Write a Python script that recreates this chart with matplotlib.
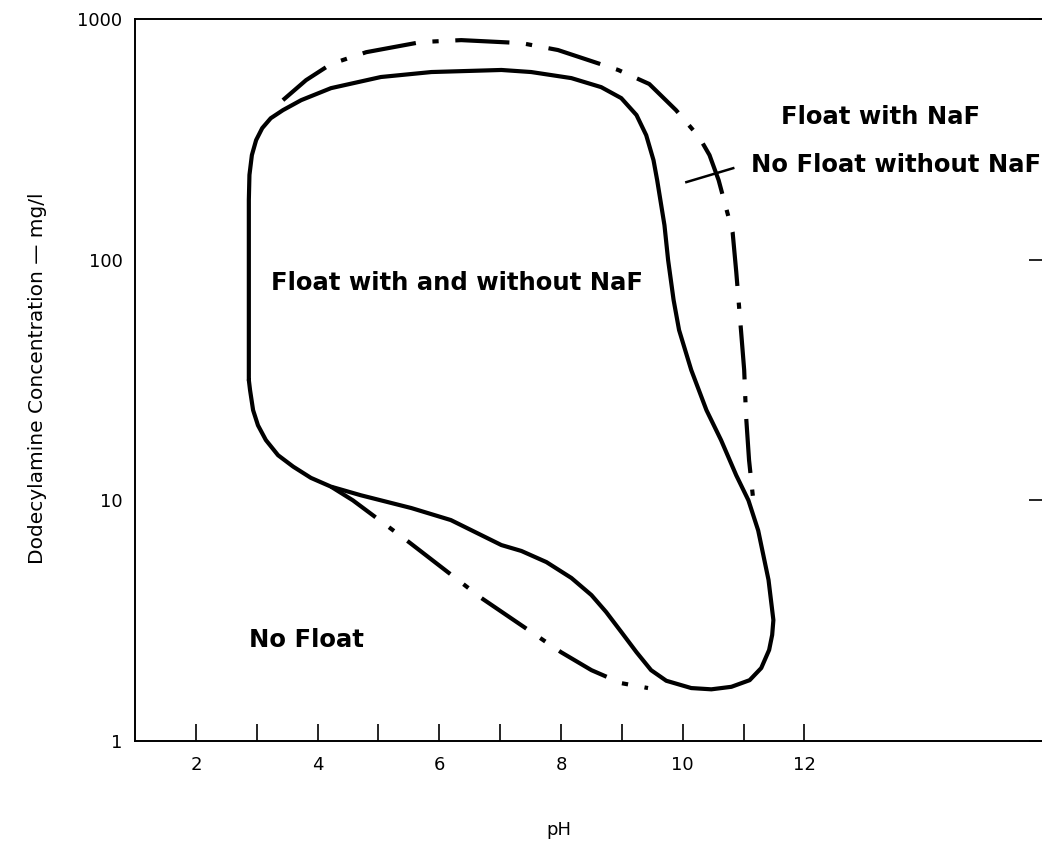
import matplotlib.pyplot as plt
from matplotlib.ticker import FixedLocator, NullLocator

plt.rcParams["font.family"] = ["DejaVu Sans"]

# Flotation boundary without NaF (solid, closed), traced clockwise from the left edge
solid_ph = [2.87, 2.87, 2.87, 2.88, 2.92, 2.99, 3.09, 3.23, 3.43, 3.73, 4.22, 5.04,
            5.87, 7.02, 7.51, 8.17, 8.66, 8.99, 9.24, 9.40, 9.52, 9.58, 9.70, 9.76,
            9.85, 9.94, 10.14, 10.39, 10.63, 10.88, 11.08, 11.24, 11.41, 11.49, 11.47,
            11.42, 11.29, 11.10, 10.80, 10.47, 10.14, 9.73, 9.48, 9.24, 8.99, 8.74,
            8.50, 8.17, 7.76, 7.35, 7.02, 6.19, 5.54, 4.71, 4.22, 3.89, 3.60, 3.35,
            3.15, 3.02, 2.94, 2.89, 2.87]
solid_conc = [31.6, 68, 177, 225, 272, 314, 352, 387, 418, 460, 516, 574,
              602, 614, 602, 568, 521, 469, 399, 329, 259, 214, 139, 99.6,
              68, 51, 34.8, 23.7, 17.8, 12.7, 10.0, 7.5, 4.67, 3.18, 2.76,
              2.39, 2.01, 1.79, 1.68, 1.64, 1.66, 1.78, 1.97, 2.34, 2.84, 3.44,
              4.04, 4.76, 5.54, 6.16, 6.52, 8.28, 9.29, 10.5, 11.4, 12.4, 13.8, 15.4,
              17.8, 20.5, 23.7, 28.7, 31.6]

# Extended boundary with NaF (dash-dot), upper/right branch
naf_ph = [3.43, 3.81, 4.22, 4.80, 5.70, 6.36, 7.35, 7.95, 8.94, 9.45, 9.89, 10.27,
          10.44, 10.59, 10.82, 10.88, 10.96, 11.01, 11.04, 11.09, 11.16]
naf_conc = [460, 557, 650, 728, 802, 817, 794, 743, 614, 537, 418, 323,
            272, 214, 130, 88.8, 50, 34.8, 22.6, 14.7, 10.0]

# Extended boundary with NaF (dash-dot), lower branch
naf_low_ph = [4.22, 4.58, 5.50, 6.69, 7.51, 8.00, 8.50, 8.99, 9.43]
naf_low_conc = [11.4, 10.0, 6.71, 3.93, 2.84, 2.34, 1.97, 1.74, 1.66]

# Pointer line for the right-hand labels
sep_ph = [10.06, 10.83]
sep_conc = [210, 240]

x_ticks = list(range(2, 13))
x_labels = [str(t) if t % 2 == 0 else "" for t in x_ticks]
y_ticks = [1, 10, 100, 1000]
y_labels = ["1", "10", "100", "1000"]

fig = plt.figure(figsize=(10.42, 8.44), dpi=100)
ax = fig.add_axes([0.1296, 0.122, 0.876, 0.8555])

lw = 3.0
dash_dot = (13, 4, 1.5, 4)
ax.plot(solid_ph, solid_conc, color="black", lw=lw, solid_capstyle="round",
        solid_joinstyle="round")
ax.plot(naf_ph, naf_conc, color="black", lw=lw, dashes=dash_dot)
ax.plot(naf_low_ph, naf_low_conc, color="black", lw=lw, dashes=dash_dot)
ax.plot(sep_ph, sep_conc, color="black", lw=1.8)

ax.set_yscale("log")
ax.set_xlim(1, 16)
ax.set_ylim(1, 1000)

ax.xaxis.set_major_locator(FixedLocator(x_ticks))
ax.set_xticklabels(x_labels)
ax.yaxis.set_major_locator(FixedLocator(y_ticks))
ax.yaxis.set_minor_locator(NullLocator())
ax.set_yticklabels(y_labels)

ax.tick_params(axis="x", direction="in", length=12, width=1.2, pad=11, labelsize=13)
ax.tick_params(axis="y", direction="in", left=False, right=True, length=14,
               width=1.2, pad=9, labelsize=13)

for side in ["left", "bottom", "top", "right"]:
    ax.spines[side].set_linewidth(1.4)

lbl = dict(fontsize=17.5, fontweight="bold", va="center")
ax.text(3.23, 80, "Float with and without NaF", **lbl)
ax.text(11.62, 391, "Float with NaF", **lbl)
ax.text(11.13, 247, "No Float without NaF", **lbl)
ax.text(2.87, 2.63, "No Float", **lbl)

fig.text(38 / 1042, 1 - 378 / 844, "Dodecylamine Concentration \u2014 mg/l",
         rotation=90, ha="center", va="center", fontsize=14.5)
fig.text(559 / 1042, 1 - 830 / 844, "pH", ha="center", va="center", fontsize=13)

fig.savefig("out.png", dpi=100)
